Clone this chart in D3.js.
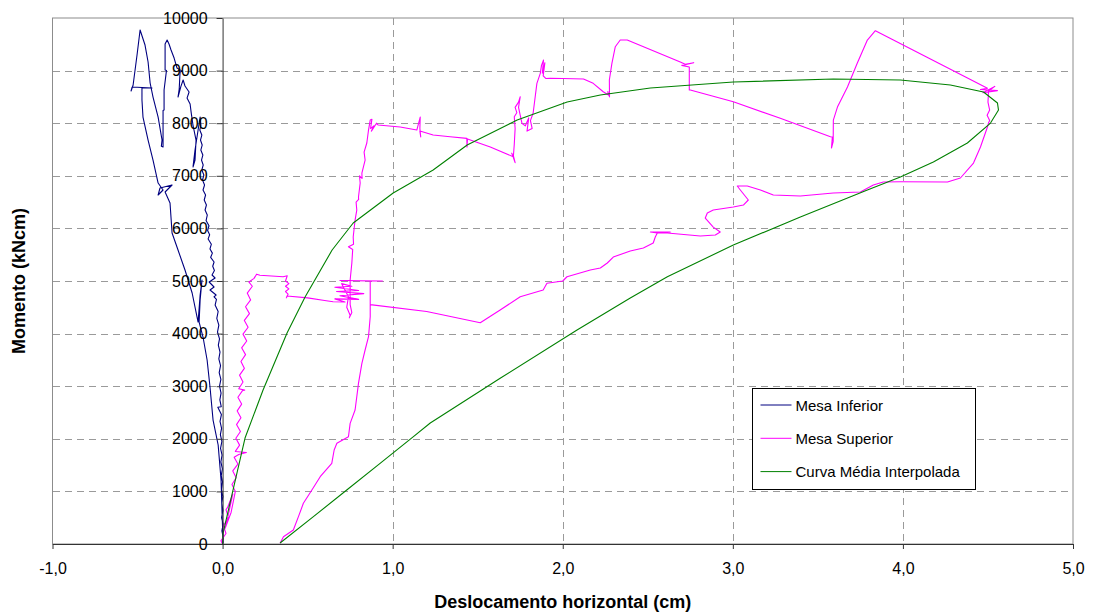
<!DOCTYPE html>
<html>
<head>
<meta charset="utf-8">
<script src="https://cdn.jsdelivr.net/npm/d3@7"></script>
<style>
  body { margin: 0; background: #fff; }
  svg { display: block; font-family: "Liberation Sans", Arial, sans-serif; }
</style>
</head>
<body>
<svg id="chart" width="1094" height="614"></svg>
<script>
// Axis ticks
const xTicks = [-1, 0, 1, 2, 3, 4, 5];
const yTicks = [0, 1000, 2000, 3000, 4000, 5000, 6000, 7000, 8000, 9000, 10000];
const seriesNames = ["Mesa Inferior", "Mesa Superior", "Curva Média Interpolada"];

// Mesa Inferior: [deslocamento (cm), momento (kNcm)]
const mesaInferior = [
  [0,0],[0.004,120],[-0.004,250],[0.003,380],[-0.006,500],[0.002,640],[-0.005,780],[0.002,900],
  [-0.007,1040],[0,1180],[-0.008,1300],[-0.001,1430],[-0.01,1560],[-0.003,1690],[-0.012,1820],
  [-0.004,1950],[-0.013,2080],[-0.006,2200],[-0.015,2330],[-0.007,2460],[-0.028,2600],[-0.008,2610],
  [-0.016,2740],[-0.009,2870],[-0.018,3000],[-0.01,3130],[-0.02,3260],[-0.012,3390],[-0.022,3520],
  [-0.015,3650],[-0.025,3780],[-0.018,3900],[-0.03,4030],[-0.022,4160],[-0.034,4290],[-0.026,4420],
  [-0.044,4543],[-0.036,4650],[-0.05,4700],[-0.038,4733],[-0.074,4828],[-0.05,4886],[-0.079,4981],
  [-0.044,5057],[-0.062,5114],[-0.048,5200],[-0.058,5280],[-0.05,5361],[-0.07,5450],[-0.06,5530],
  [-0.074,5610],[-0.066,5700],[-0.085,5800],[-0.076,5880],[-0.088,5960],[-0.08,6050],[-0.097,6150],
  [-0.09,6254],[-0.103,6350],[-0.095,6445],[-0.108,6540],[-0.1,6635],[-0.115,6730],[-0.106,6825],
  [-0.118,6920],[-0.11,7015],[-0.122,7110],[-0.114,7205],[-0.124,7300],[-0.116,7395],[-0.128,7490],
  [-0.12,7585],[-0.13,7680],[-0.122,7775],[-0.134,7870],[-0.128,7965],[-0.132,8117],
  [-0.144,7870],[-0.162,7490],[-0.174,7167],[-0.162,7300],[-0.156,7680],[-0.174,7965],[-0.185,8212],
  [-0.191,8364],[-0.209,8478],[-0.197,8593],[-0.221,8707],[-0.232,8821],[-0.245,8700],[-0.262,8497],
  [-0.255,8650],[-0.250,8973],[-0.238,8990],[-0.268,9049],[-0.285,9239],[-0.303,9391],[-0.315,9505],
  [-0.326,9581],[-0.338,9505],[-0.338,9011],[-0.33,9000],[-0.344,8631],[-0.344,8250],[-0.35,8240],
  [-0.350,7908],[-0.350,7547],[-0.36,7560],[-0.356,7680],[-0.379,8117],[-0.409,8497],[-0.426,8764],
  [-0.438,9163],[-0.456,9486],[-0.485,9771],
  [-0.503,9296],[-0.526,8726],[-0.538,8612],[-0.532,8688],[-0.415,8669],[-0.474,8669],[-0.474,8440],
  [-0.468,8117],[-0.438,7680],[-0.409,7300],[-0.379,6863],[-0.350,6730],[-0.379,6635],[-0.368,6768],
  [-0.297,6825],[-0.338,6692],[-0.309,6483],[-0.297,5912],[-0.262,5589],[-0.221,5209],[-0.179,4772],
  [-0.150,4315],[-0.144,4220],[-0.132,4733],[-0.121,5019],[-0.132,4638],[-0.138,4220],[-0.115,3935],
  [-0.091,3498],[-0.074,2985],[-0.056,2357],[-0.026,1882],[-0.009,1217],[-0.003,589],[0.003,19]
];

// Mesa Superior: [deslocamento (cm), momento (kNcm)]
const mesaSuperior = [
  [0,0],[-0.01,60],[0.02,200],[0.005,350],[0.035,500],[0.02,650],[0.05,800],[0.03,700],[0.06,950],
  [0.03,500],[0.015,300],[0.05,600],[0.075,1000],
  [0.055,1130],[0.08,1260],[0.06,1390],[0.09,1520],[0.068,1650],[0.095,1700],[0.14,1740],[0.075,1760],
  [0.1,1880],[0.078,2010],[0.105,2140],[0.082,2270],[0.108,2400],[0.086,2530],[0.112,2660],[0.09,2790],
  [0.118,2920],[0.13,2925],[0.095,2950],[0.12,3080],[0.1,3210],[0.128,3340],[0.108,3470],[0.135,3600],
  [0.112,3730],[0.142,3860],[0.12,3990],[0.15,4120],[0.128,4250],[0.158,4380],[0.135,4510],[0.165,4640],
  [0.145,4770],[0.175,4900],[0.155,4980],[0.185,5050],[0.2,5130],
  [0.22,5110],[0.356,5080],
  [0.38,5100],[0.37,5000],[0.39,4950],[0.37,4900],[0.39,4850],[0.37,4800],[0.385,4750],[0.375,4680],[0.379,4714],
  [0.50,4680],[0.60,4630],[0.65,4606],
  [0.72,4600],[0.66,4660],[0.80,4650],[0.69,4720],[0.83,4760],[0.67,4800],[0.80,4820],[0.66,4880],
  [0.76,4900],[0.70,4950],[0.74,4700],[0.73,4500],[0.75,4350],[0.745,4300],[0.76,4400],[0.75,4550],
  [0.75,5019],[0.76,5342],[0.765,5600],[0.74,5650],[0.77,5700],[0.768,5836],[0.779,6159],[0.789,6349],
  [0.785,6500],[0.80,6550],[0.799,6596],[0.809,6863],[0.805,7000],[0.82,6950],[0.819,7053],[0.838,7300],
  [0.832,7450],[0.848,7623],[0.858,7870],[0.868,8060],[0.878,8074],[0.87,7900],[0.89,7950],[0.875,7850],
  [0.905,8000],
  [0.915,7965],[1.044,7927],[1.142,7870],
  [1.162,8117],[1.16,7900],[1.165,7737],[1.16,7850],
  [1.238,7775],[1.338,7743],[1.436,7712],[1.437,7547],[1.44,7700],
  [1.574,7547],[1.709,7363],[1.70,7430],[1.72,7250],[1.71,7380],
  [1.715,7600],[1.72,7900],[1.715,8123],[1.73,8200],[1.72,8300],[1.74,8400],[1.75,8503],[1.74,8300],
  [1.76,8000],[1.78,7950],[1.80,8100],[1.79,7850],[1.82,7900],[1.81,8050],[1.826,8193],[1.838,8503],
  [1.848,8758],[1.868,8948],[1.875,9100],[1.887,9201],[1.88,8950],[1.895,9150],[1.885,8900],[1.90,8850],
  [1.926,8853],[2.0,8850],[2.122,8840],[2.179,8758],[2.238,8598],[2.269,8535],[2.265,8600],[2.275,8500],
  [2.274,8821],[2.289,9138],[2.309,9454],[2.338,9581],[2.379,9581],
  [2.691,9163],[2.72,9120],[2.77,9150],[2.70,9100],[2.744,9068],[2.744,8631],
  [2.75,8631],[3.003,8408],[3.279,8093],[3.574,7743],[3.585,7737],[3.58,7528],[3.59,7650],
  [3.591,8060],[3.615,8307],[3.674,8688],[3.732,9144],[3.791,9581],[3.838,9758],
  [4.497,8663],[4.456,8640],[4.556,8620],[4.47,8580],[4.54,8700],[4.50,8600],
  [4.503,8574],[4.50,8400],[4.51,8250],[4.495,8150],[4.51,8050],[4.503,8003],
  [4.497,7927],[4.456,7547],[4.415,7243],[4.338,6958],[4.262,6882],[3.985,6887],[3.885,6882],
  [3.826,6825],[3.75,6692],[3.591,6673],[3.397,6617],[3.238,6635],[3.162,6730],[3.085,6806],
  [3.026,6806],[3.044,6730],[3.091,6540],[3.062,6444],[3.003,6406],[2.885,6349],[2.85,6292],
  [2.838,6197],[2.885,6025],[2.926,5931],[2.897,5874],[2.809,5855],[2.615,5912],[2.556,5912],
  [2.515,5931],[2.632,5931],[2.556,5912],[2.544,5836],[2.532,5722],[2.474,5627],[2.397,5570],
  [2.297,5456],[2.262,5342],[2.221,5247],[2.162,5209],[2.025,5081],[2.0,5000],[1.907,4956],
  [1.885,4828],[1.75,4701],[1.632,4448],[1.515,4207],
  [1.2,4420],[0.868,4550],[0.868,5000],[0.94,5000],[0.69,5010],[0.868,5000],
  [0.868,4956],[0.868,4321],[0.858,3941],[0.838,3688],[0.819,3435],[0.799,3055],[0.789,2800],
  [0.779,2547],[0.75,2294],[0.74,2040],[0.672,1914],[0.656,1787],[0.642,1534],[0.574,1279],
  [0.525,1027],[0.475,774],[0.446,520],[0.416,266],[0.358,139],[0.338,13]
];

// Curva Média Interpolada: [deslocamento (cm), momento (kNcm)]
const curvaMedia = [
  [0,0],[0.003,209],[0.132,2015],[0.238,2928],[0.379,4011],[0.485,4696],[0.644,5589],[0.768,6102],
  [1.003,6672],[1.238,7110],[1.438,7585],[1.732,8060],[2.026,8402],[2.221,8535],[2.515,8669],
  [3.003,8783],[3.591,8840],[3.985,8821],[4.279,8726],[4.474,8593],[4.556,8383],[4.562,8250],
  [4.515,8003],[4.379,7623],[4.179,7262],[3.985,6977],[3.791,6730],[3.397,6216],[3.003,5684],
  [2.615,5081],[2.397,4676],[2.084,4068],[1.632,3150],[1.221,2300],[1.122,2040],[0.926,1534],
  [0.73,1027],[0.534,520],[0.338,19]
];

const seriesColors = ["#000080", "#ff00ff", "#008000"];
const seriesData = [mesaInferior, mesaSuperior, curvaMedia];

const svg = d3.select("#chart");
const plotLeft = 52.5, plotRight = 1073, plotTop = 18, plotBottom = 544;

const x = d3.scaleLinear().domain([-1, 5]).range([plotLeft, plotRight]);
const y = d3.scaleLinear().domain([0, 10000]).range([plotBottom, plotTop]);
const fmtX = d => d.toFixed(1).replace(".", ",");

// Plot area frame
svg.append("rect")
  .attr("x", plotLeft).attr("y", plotTop)
  .attr("width", plotRight - plotLeft).attr("height", plotBottom - plotTop)
  .attr("fill", "#fff").attr("stroke", "#8c8c8c").attr("stroke-width", 1);

// Dashed grid
const grid = svg.append("g").attr("stroke", "#9a9a9a").attr("stroke-width", 1)
  .attr("stroke-dasharray", "7,5").attr("shape-rendering", "crispEdges");
grid.selectAll("line.h").data(yTicks.filter(v => v > 0 && v < 10000)).join("line")
  .attr("class", "h")
  .attr("x1", plotLeft).attr("x2", plotRight)
  .attr("y1", d => Math.round(y(d)) + 0.5).attr("y2", d => Math.round(y(d)) + 0.5);
grid.selectAll("line.v").data(xTicks.filter(v => v > 0 && v < 5)).join("line")
  .attr("class", "v")
  .attr("y1", plotTop).attr("y2", plotBottom)
  .attr("x1", d => Math.round(x(d)) + 0.5).attr("x2", d => Math.round(x(d)) + 0.5);

// Series
svg.append("clipPath").attr("id", "plotClip")
  .append("rect").attr("x", plotLeft).attr("y", plotTop - 2)
  .attr("width", plotRight - plotLeft).attr("height", plotBottom - plotTop + 4);

const line = d3.line().x(d => x(d[0])).y(d => y(d[1]));
const seriesG = svg.append("g").attr("clip-path", "url(#plotClip)");
seriesG.selectAll("path").data(seriesData).join("path")
  .attr("d", line)
  .attr("fill", "none")
  .attr("stroke", (d, i) => seriesColors[i])
  .attr("stroke-width", 1.1)
  .attr("stroke-linejoin", "round");

// Axes
const xAxis = d3.axisBottom(x).tickValues(xTicks).tickFormat(fmtX)
  .tickSize(5).tickSizeOuter(0).tickPadding(14);
const gx = svg.append("g").attr("transform", `translate(0,${plotBottom})`).call(xAxis);
gx.select(".domain").attr("stroke", "#333");
gx.selectAll(".tick line").attr("stroke", "#333");
gx.selectAll("text").attr("font-size", 16).attr("fill", "#000")
  .attr("font-family", "'Liberation Sans', Arial, sans-serif");

const yAxis = d3.axisLeft(y).tickValues(yTicks).tickFormat(d3.format("d"))
  .tickSize(6).tickSizeOuter(0).tickPadding(9);
const gy = svg.append("g").attr("transform", `translate(${x(0)},0)`).call(yAxis);
gy.select(".domain").attr("stroke", "#333");
gy.selectAll(".tick line").attr("stroke", "#333");
gy.selectAll("text").attr("font-size", 16).attr("fill", "#000")
  .attr("font-family", "'Liberation Sans', Arial, sans-serif");

// Axis titles
svg.append("text")
  .attr("x", (plotLeft + plotRight) / 2).attr("y", 608)
  .attr("text-anchor", "middle").attr("font-size", 18).attr("font-weight", "bold")
  .text("Deslocamento horizontal (cm)");
svg.append("text")
  .attr("transform", "translate(25,281) rotate(-90)")
  .attr("text-anchor", "middle").attr("font-size", 18).attr("font-weight", "bold")
  .text("Momento (kNcm)");

// Legend
const legend = svg.append("g").attr("transform", "translate(752.5,388.5)");
legend.append("rect").attr("width", 223).attr("height", 101)
  .attr("fill", "#fff").attr("stroke", "#000").attr("stroke-width", 1);
const items = legend.selectAll("g.item").data(seriesNames).join("g")
  .attr("class", "item")
  .attr("transform", (d, i) => `translate(0,${16.5 + i * 33.3})`);
items.append("line").attr("x1", 8).attr("x2", 39).attr("y1", 0).attr("y2", 0)
  .attr("stroke", (d, i) => seriesColors[i]).attr("stroke-width", 1);
items.append("text").attr("x", 43).attr("y", 5.5).attr("font-size", 15).text(d => d);
</script>
</body>
</html>
